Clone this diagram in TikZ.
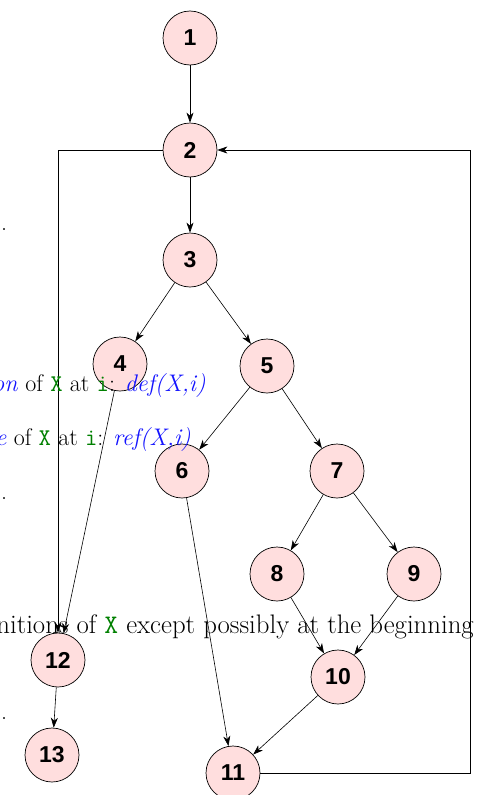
\documentclass[tikz,border=0pt]{standalone}
\usepackage{fontspec}
\newfontfamily\nodefont{Liberation Sans}
\usetikzlibrary{arrows.meta}
\definecolor{nodepink}{RGB}{255,222,222}
\definecolor{txtgreen}{RGB}{0,128,0}
\definecolor{txtblue}{RGB}{20,20,255}
\tikzset{
  vtx/.style={circle, draw=black, line width=0.7pt, fill=nodepink, minimum size=54pt, inner sep=0pt, font=\nodefont\bfseries\fontsize{23}{23}\selectfont},
  edge/.style={line width=0.6pt, -{Stealth[length=10pt,width=7pt,inset=3pt]}},
  slide/.style={inner sep=0pt, font=\fontsize{24}{28}\selectfont},
  slidebig/.style={inner sep=0pt, font=\fontsize{26.8}{30}\selectfont}
}
\newcommand{\tv}[1]{\textcolor{txtgreen}{\texttt{#1}}}
\newcommand{\bl}[1]{\textcolor{txtblue}{\textit{#1}}}
\begin{document}
\begin{tikzpicture}[x=1pt,y=-1pt]
\useasboundingbox (0,0) rectangle (477,795);
\clip (0,0) rectangle (477,795);
% nodes
\node[vtx] (n1) at (190,38) {1};
\node[vtx] (n2) at (190,150) {2};
\node[vtx] (n3) at (190,260) {3};
\node[vtx] (n4) at (120,364) {4};
\node[vtx] (n5) at (267,366) {5};
\node[vtx] (n6) at (182,471) {6};
\node[vtx] (n7) at (337,471) {7};
\node[vtx] (n8) at (277,574) {8};
\node[vtx] (n9) at (414,574) {9};
\node[vtx] (n10) at (338,677) {10};
\node[vtx] (n11) at (233,773) {11};
\node[vtx] (n12) at (58,660) {12};
\node[vtx] (n13) at (52,755) {13};
\coordinate (cr) at (470,773);
% edges
\draw[edge] (n1) -- (n2);
\draw[edge] (n2) -- (n3);
\draw[edge] (n3) -- (n4);
\draw[edge] (n3) -- (n5);
\draw[edge] (n4) -- (n12);
\draw[edge] (n5) -- (n6);
\draw[edge] (n5) -- (n7);
\draw[edge] (n6) -- (n11);
\draw[edge] (n7) -- (n8);
\draw[edge] (n7) -- (n9);
\draw[edge] (n8) -- (n10);
\draw[edge] (n9) -- (n10);
\draw[edge] (n10) -- (n11);
\draw[edge] (n12) -- (n13);
\draw[edge] (n11.east) -- (cr) |- (n2.east);
\draw[edge] (n2.west) -| (n12.north);
% slide text fragments
\node[slide, anchor=base east] (t1) at (206,391) {\bl{on} of \tv{X} at \tv{i}: \bl{def(X,i)}};
\node[slide, anchor=base east] (t2) at (191,445) {\bl{re} of \tv{X} at \tv{i}: \bl{ref(X,i)}};
\node[slidebig, anchor=base east] (t3) at (474,633) {nitions of \tv{X} except possibly at the beginning};
\node[slide, anchor=base west] (d1) at (1,230) {.};
\node[slide, anchor=base west] (d2) at (1,499) {.};
\node[slide, anchor=base west] (d3) at (1,719) {.};
\end{tikzpicture}
\end{document}
